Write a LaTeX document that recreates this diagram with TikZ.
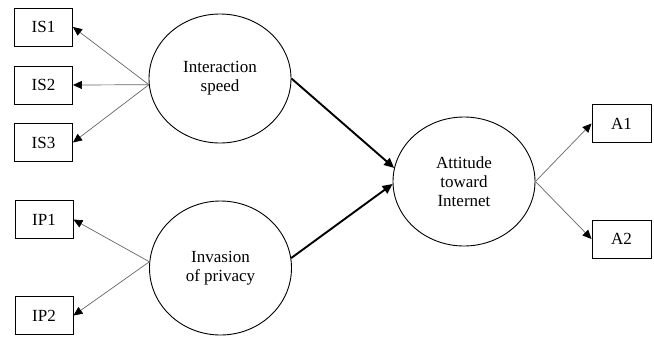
\documentclass[tikz,border=0pt]{standalone}
\usepackage{fontspec}
\setmainfont{Liberation Serif}
\usetikzlibrary{shapes.geometric,arrows.meta}
\begin{document}
\begin{tikzpicture}[x=1pt,y=-1pt,
  every node/.style={font=\fontsize{17}{19}\selectfont, text=black},
  ind/.style={draw, line width=0.9pt, minimum width=58pt, minimum height=38pt, inner sep=0pt},
  lat/.style={draw, ellipse, line width=0.9pt, minimum width=142pt, minimum height=129pt, inner sep=0pt, align=center},
  thin/.style={draw=black!60, line width=0.7pt, -{Triangle[length=9pt,width=8pt,color=black]}},
  thick/.style={draw=black, line width=1.9pt, -{Triangle[length=10pt,width=9pt]}}]
\useasboundingbox (0,0) rectangle (654,338);
\node[ind] (is1) at (43.5,27) {IS1};
\node[ind] (is2) at (43.5,85) {IS2};
\node[ind] (is3) at (43.5,142.5) {IS3};
\node[ind] (ip1) at (44,219.5) {IP1};
\node[ind] (ip2) at (44,315.5) {IP2};
\node[ind, minimum width=59pt] (a1) at (621.5,123.5) {A1};
\node[ind, minimum width=59pt] (a2) at (621.5,239) {A2};
\node[lat] (is) at (220,78.5) {Interaction\\speed};
\node[lat, minimum height=134pt] (ip) at (220.5,268) {Invasion\\of privacy};
\node[lat] (att) at (464,181.5) {Attitude\\toward\\Internet};
\draw[thin] (is.185) -- (is1.east);
\draw[thin] (is.185) -- (is2.east);
\draw[thin] (is.185) -- (is3.east);
\draw[thin] (ip.175) -- (ip1.east);
\draw[thin] (ip.175) -- (ip2.east);
\draw[thin] (att.east) -- (a1.west);
\draw[thin] (att.east) -- (a2.west);
\draw[thick] (is.east) -- (att.169);
\draw[thick] (ip.8) -- (att.182);
\end{tikzpicture}
\end{document}
